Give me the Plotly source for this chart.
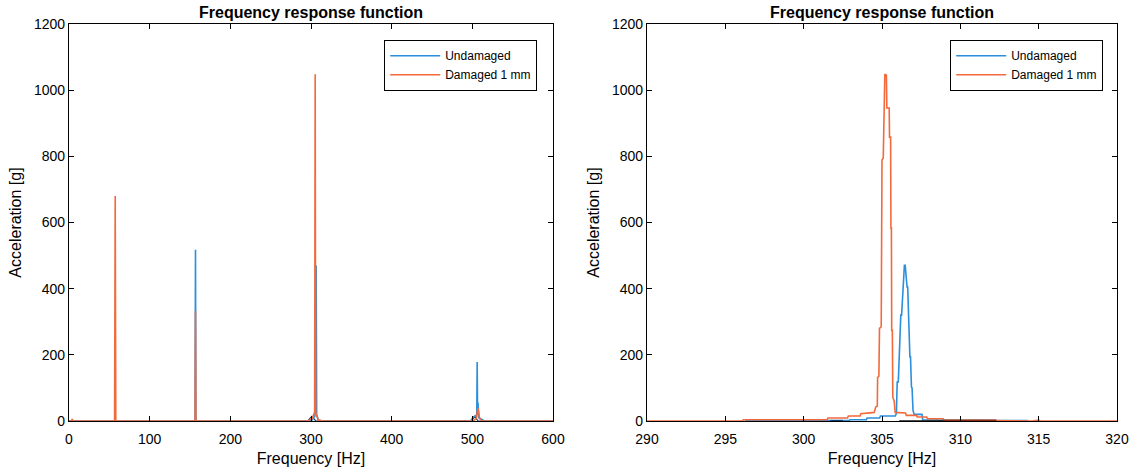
import plotly.graph_objects as go

# ---------------- data ----------------
# Left panel (0-600 Hz), spike spectra
left_undamaged_freq = [0, 156.3, 156.8, 157.3, 296, 301, 304.8, 306.4, 307, 309, 314,
                       498, 501, 504, 505.5, 506, 506.5, 507, 508, 512, 515, 600]
left_undamaged_acc = [0, 0, 518, 0, 0, 2, 15, 470, 20, 3, 0,
                      0, 12, 15, 20, 178, 20, 55, 10, 3, 0, 0]

left_damaged_freq = [0, 3, 4, 5, 56.5, 57.3, 58, 156.3, 156.8, 157.3, 296, 301.5, 304.5,
                     305.2, 305.8, 307.5, 309, 315, 501, 505, 507, 509, 512, 600]
left_damaged_acc = [0, 0, 6, 0, 0, 680, 0, 0, 332, 0, 0, 8, 26,
                    1048, 24, 12, 3, 0, 0, 8, 40, 8, 0, 0]

left_other_freq = [296, 301, 306, 311, 499, 503, 507, 512]
left_other_acc = [0, 14, 0, 0, 0, 14, 0, 0]

# Right panel (zoom 290-320 Hz)
right_undamaged_freq = [296.25, 302.9, 302.95, 304.0, 304.05, 304.85, 304.9, 305.85, 305.92,
                        305.97, 306.04, 306.1, 306.14, 306.2, 306.25, 306.32, 306.36, 306.4,
                        306.43, 306.48, 306.53, 306.6, 306.64, 306.68, 306.72, 306.78, 306.82,
                        306.88, 306.92, 306.98, 307.05, 307.55, 307.6, 308.5, 309.0, 314.3]
right_undamaged_acc = [1, 1, 4, 4, 9, 9, 15, 15, 23,
                       118, 118, 194, 194, 320, 320, 380, 380, 441,
                       471, 471, 440, 405, 405, 284, 284, 194, 194,
                       103, 100, 32, 20, 20, 4, 3, 2, 1]

right_damaged_freq = [290, 296.1, 296.15, 301.5, 301.55, 302.8, 302.85, 303.6, 303.65, 304.5,
                      304.6, 304.7, 304.72, 304.8, 304.84, 304.95, 305.0, 305.08, 305.18,
                      305.28, 305.31, 305.46, 305.48, 305.55, 305.57, 305.6, 305.62, 305.66,
                      305.69, 305.78, 305.84, 306.5, 306.55, 307.2, 307.25, 307.85, 307.9,
                      308.9, 308.95, 314.5, 314.6, 315.0, 315.1, 320]
right_damaged_acc = [0, 0, 4, 4, 9, 9, 15, 15, 22, 26,
                     42, 45, 132, 135, 280, 285, 789, 795, 1048,
                     1045, 946, 946, 858, 858, 583, 583, 274, 274,
                     72, 60, 26, 24, 17, 17, 12, 12, 7,
                     7, 2, 2, 0, 3, 0, 0]

right_black_freq = [306.1, 309.9]
right_black_acc = [0, 0]
right_darkred_freq = [308.9, 312.3]
right_darkred_acc = [2, 2]
right_darkblue_freq = [301.7, 302.5]
right_darkblue_acc = [1, 1]

series_names = ["Undamaged", "Damaged 1 mm"]
left_xticks = [0, 100, 200, 300, 400, 500, 600]
right_xticks = [290, 295, 300, 305, 310, 315, 320]
yticks = [0, 200, 400, 600, 800, 1000, 1200]

# ---------------- style ----------------
BLUE = "#2b8fdc"
ORANGE = "#f26a3c"
FONT = "Liberation Sans"
W, H = 1137, 474
TOP, BOT = 24, 421
PH = BOT - TOP
LEFT_DOM = [69 / W, 553 / W]
RIGHT_DOM = [647 / W, 1117 / W]

fig = go.Figure()

# Left panel
fig.add_trace(go.Scatter(x=left_other_freq, y=left_other_acc, mode="lines",
                         line=dict(color="#1a3d6b", width=1.2), showlegend=False,
                         xaxis="x", yaxis="y", hoverinfo="skip"))
fig.add_trace(go.Scatter(x=left_undamaged_freq, y=left_undamaged_acc, mode="lines",
                         name=series_names[0], line=dict(color=BLUE, width=1.6),
                         xaxis="x", yaxis="y", legend="legend"))
fig.add_trace(go.Scatter(x=left_damaged_freq, y=left_damaged_acc, mode="lines",
                         name=series_names[1], line=dict(color=ORANGE, width=1.6),
                         xaxis="x", yaxis="y", legend="legend"))

# Right panel
fig.add_trace(go.Scatter(x=right_undamaged_freq, y=right_undamaged_acc, mode="lines",
                         name=series_names[0], line=dict(color=BLUE, width=1.6),
                         xaxis="x2", yaxis="y2", legend="legend2"))
fig.add_trace(go.Scatter(x=right_damaged_freq, y=right_damaged_acc, mode="lines",
                         name=series_names[1], line=dict(color=ORANGE, width=1.6),
                         xaxis="x2", yaxis="y2", legend="legend2"))
for fx, fy, col in [(right_black_freq, right_black_acc, "#111111"),
                    (right_darkred_freq, right_darkred_acc, "#8a2a10"),
                    (right_darkblue_freq, right_darkblue_acc, "#123c6e")]:
    fig.add_trace(go.Scatter(x=fx, y=fy, mode="lines", line=dict(color=col, width=1.5),
                             showlegend=False, xaxis="x2", yaxis="y2", hoverinfo="skip"))

axis_common = dict(showline=True, linecolor="black", linewidth=1.2, mirror="ticks",
                   ticks="inside", ticklen=5, tickwidth=1.2, tickcolor="black",
                   showgrid=False, zeroline=False, automargin=False,
                   tickfont=dict(family=FONT, size=14, color="black"),
                   title_font=dict(family=FONT, size=16, color="black"))

legend_common = dict(yanchor="top", y=(BOT - 40) / PH, xanchor="right",
                     bgcolor="white", bordercolor="black", borderwidth=1.2,
                     font=dict(family=FONT, size=12, color="black"),
                     itemwidth=50, tracegroupgap=0)

fig.update_layout(
    width=W, height=H,
    margin=dict(l=0, r=0, t=TOP, b=H - BOT, autoexpand=False),
    paper_bgcolor="white", plot_bgcolor="white",
    font=dict(family=FONT, color="black"),
    xaxis=dict(domain=LEFT_DOM, range=[0, 600], tickvals=left_xticks, ticklabelstandoff=5,
               title=dict(text="Frequency [Hz]", standoff=6), anchor="y", **axis_common),
    yaxis=dict(domain=[0, 1], range=[0, 1200], tickvals=yticks,
               title=dict(text="Acceleration [g]", standoff=8), anchor="x", **axis_common),
    xaxis2=dict(domain=RIGHT_DOM, range=[290, 320], tickvals=right_xticks, ticklabelstandoff=5,
                title=dict(text="Frequency [Hz]", standoff=6), anchor="y2", **axis_common),
    yaxis2=dict(domain=[0, 1], range=[0, 1200], tickvals=yticks,
                title=dict(text="Acceleration [g]", standoff=8), anchor="x2", **axis_common),
    legend=dict(x=537 / W, **legend_common),
    legend2=dict(x=1103 / W, **legend_common),
    showlegend=True,
    annotations=[
        dict(text="<b>Frequency response function</b>", xref="paper", yref="paper",
             x=(LEFT_DOM[0] + LEFT_DOM[1]) / 2, y=1, yanchor="bottom", xanchor="center",
             yshift=1, showarrow=False, font=dict(family=FONT, size=16, color="black")),
        dict(text="<b>Frequency response function</b>", xref="paper", yref="paper",
             x=(RIGHT_DOM[0] + RIGHT_DOM[1]) / 2, y=1, yanchor="bottom", xanchor="center",
             yshift=1, showarrow=False, font=dict(family=FONT, size=16, color="black")),
    ],
)

fig.write_html("out.html", config={"displayModeBar": False},
               post_script="document.body.style.margin='0';document.body.style.overflow='hidden';")
